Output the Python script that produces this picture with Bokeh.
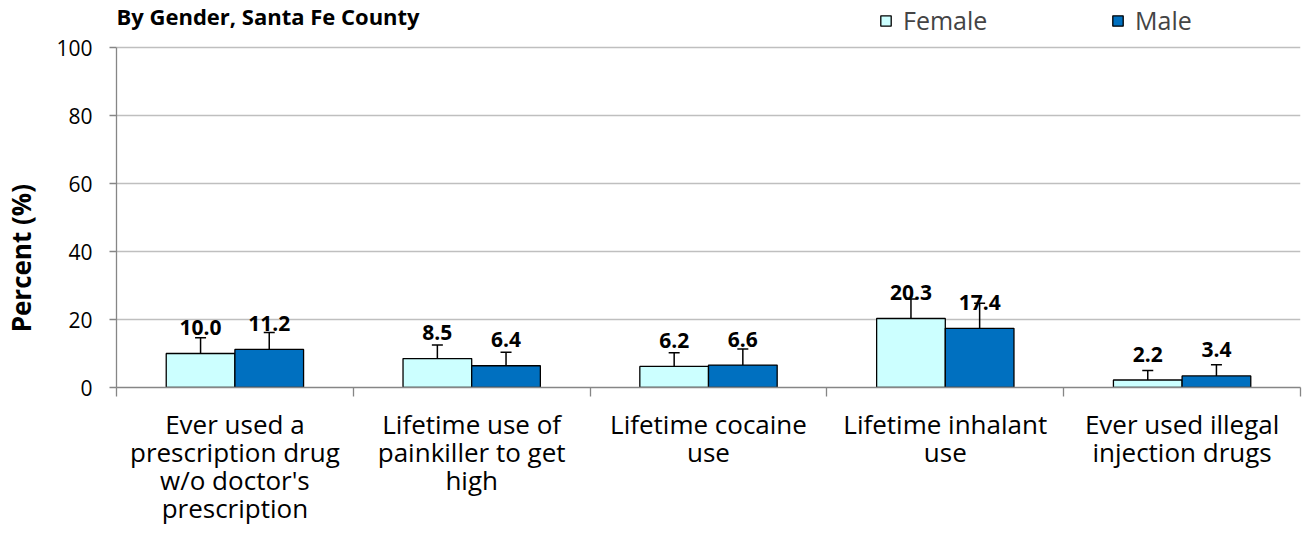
from bokeh.plotting import figure
from bokeh.models import (ColumnDataSource, FixedTicker, Whisker, TeeHead, Legend, LegendItem,
                          Range1d, Label)
from bokeh.core.properties import value
from bokeh.embed import file_html
from bokeh.resources import INLINE

title_text = "By Gender, Santa Fe County"
y_title = "Percent (%)"
categories = ["Ever used a\nprescription drug\nw/o doctor's\nprescription",
              "Lifetime use of\npainkiller to get\nhigh",
              "Lifetime cocaine\nuse",
              "Lifetime inhalant\nuse",
              "Ever used illegal\ninjection drugs"]
series_names = ["Female", "Male"]
female = [10.0, 8.5, 6.2, 20.3, 2.2]
female_lower = [6.2, 5.8, 3.8, 15.6, 1.1]
female_upper = [14.6, 12.5, 10.2, 26.0, 5.0]
male = [11.2, 6.4, 6.6, 17.4, 3.4]
male_lower = [7.4, 3.6, 3.8, 11.9, 1.8]
male_upper = [16.2, 10.4, 11.3, 24.8, 6.7]
y_ticks = [0, 20, 40, 60, 80, 100]

FEM_COLOR = "#CCFFFF"
MALE_COLOR = "#0070C0"
FONT = "Open Sans"
W, H = 1302, 548
LEFT, RIGHT, BOTTOM = 115, 2, 161
FRAME_H = H - BOTTOM                 # frame reaches the top of the canvas
PX_PER_PCT = 3.4                     # 100 % -> 340 px
Y_TOP = FRAME_H / PX_PER_PCT         # head-room above 100 for title / legend

n = len(categories)
off = 0.145
bw = 0.29
centers = [i + 0.5 for i in range(n)]

fsrc = ColumnDataSource(dict(x=[c - off for c in centers], top=female,
                             lower=female_lower, upper=female_upper,
                             label=[f"{v:.1f}" for v in female]))
msrc = ColumnDataSource(dict(x=[c + off for c in centers], top=male,
                             lower=male_lower, upper=male_upper,
                             label=[f"{v:.1f}" for v in male]))

p = figure(width=W, height=H, output_backend="svg", toolbar_location=None,
           x_range=Range1d(0, n), y_range=Range1d(0, Y_TOP))
p.min_border_left = LEFT
p.min_border_right = RIGHT
p.min_border_top = 0
p.min_border_bottom = BOTTOM
p.outline_line_color = None

rf = p.vbar(x="x", top="top", width=bw, source=fsrc, fill_color=FEM_COLOR,
            line_color="black", line_width=1.3)
rm = p.vbar(x="x", top="top", width=bw, source=msrc, fill_color=MALE_COLOR,
            line_color="black", line_width=1.3)

for src in (fsrc, msrc):
    w = Whisker(base="x", lower="lower", upper="upper", source=src,
                line_color="black", line_width=1.5,
                upper_head=TeeHead(size=11, line_color="black", line_width=1.5),
                lower_head=TeeHead(size=11, line_color="black", line_width=1.5))
    p.add_layout(w)
    p.text(x="x", y="top", text="label", source=src, text_align="center",
           text_baseline="alphabetic", y_offset=-26, text_font=value(FONT),
           text_font_size="21px", text_font_style="bold", text_color="black")

# title, in the head-room at the top-left of the plot area
p.add_layout(Label(x=0, y=Y_TOP, text=title_text, text_font=FONT,
                   text_font_size="22px", text_font_style="bold",
                   text_baseline="top", text_align="left", text_color="black"))

# legends
for r, name, loc in ((rf, series_names[0], (763, FRAME_H - 37)),
                     (rm, series_names[1], (995, FRAME_H - 37))):
    p.add_layout(Legend(items=[LegendItem(label=name, renderers=[r])], location=loc,
                        orientation="horizontal", glyph_width=13, glyph_height=13,
                        label_height=13, label_text_font=FONT,
                        label_text_font_size="25px", label_standoff=11,
                        label_text_baseline="middle",
                        padding=0, margin=0, border_line_color=None,
                        background_fill_alpha=0))

# x axis
p.xaxis.ticker = FixedTicker(ticks=centers, minor_ticks=list(range(n + 1)))
p.xaxis.major_label_overrides = {c: lab for c, lab in zip(centers, categories)}
p.xaxis.major_tick_line_color = None
p.xaxis.major_tick_out = 0
p.xaxis.major_tick_in = 0
p.xaxis.minor_tick_line_color = "#868686"
p.xaxis.minor_tick_line_width = 1.3
p.xaxis.minor_tick_out = 9
p.xaxis.minor_tick_in = 0
p.xaxis.axis_line_color = "#868686"
p.xaxis.axis_line_width = 1.3
p.xaxis.major_label_text_font = FONT
p.xaxis.major_label_text_font_size = "26px"
p.xaxis.major_label_text_line_height = 0.78
p.xaxis.major_label_text_color = "black"
p.xaxis.major_label_standoff = 9
p.xaxis.major_label_orientation = "horizontal"
p.xgrid.grid_line_color = None

# y axis (title padded with no-break spaces so it sits centred on the 0-100 band)
p.yaxis.ticker = FixedTicker(ticks=y_ticks, minor_ticks=[])
p.yaxis.bounds = (0, 100)
p.yaxis.axis_label = y_title + "\u00a0" * 19
p.yaxis.axis_label_text_font = FONT
p.yaxis.axis_label_text_font_size = "26px"
p.yaxis.axis_label_text_font_style = "bold"
p.yaxis.axis_label_text_color = "black"
p.yaxis.axis_label_standoff = 14
p.yaxis.major_label_text_font = FONT
p.yaxis.major_label_text_font_size = "21px"
p.yaxis.major_label_text_color = "black"
p.yaxis.major_label_standoff = 17
p.yaxis.major_tick_line_color = "#868686"
p.yaxis.major_tick_line_width = 1.3
p.yaxis.major_tick_out = 7
p.yaxis.major_tick_in = 0
p.yaxis.axis_line_color = "#868686"
p.yaxis.axis_line_width = 1.3
p.ygrid.grid_line_color = "#BFBFBF"
p.ygrid.grid_line_width = 1.3

open("out.html", "w").write(file_html(p, INLINE))
